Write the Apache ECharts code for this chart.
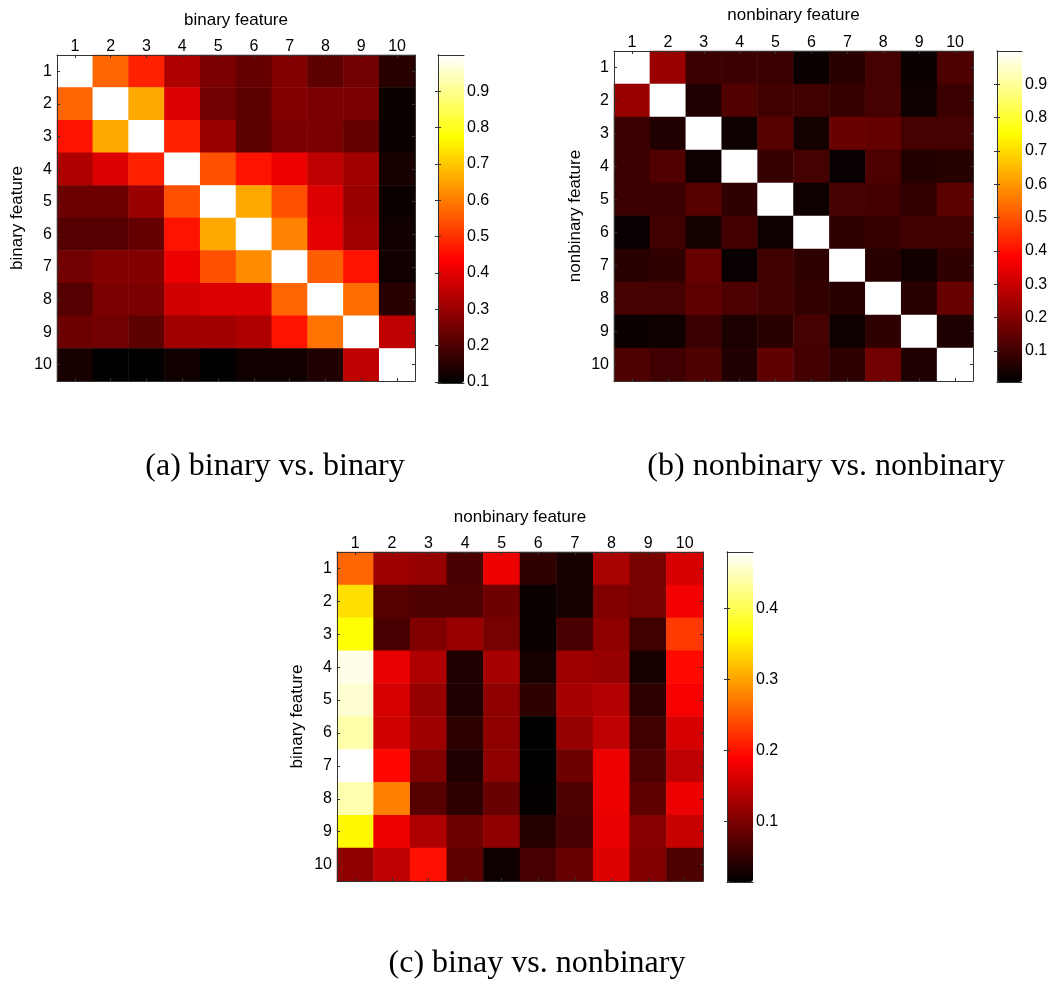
<!DOCTYPE html>
<html>
<head>
<meta charset="utf-8">
<script src="https://cdn.jsdelivr.net/npm/echarts@6/dist/echarts.min.js"></script>
<style>html,body{margin:0;padding:0;background:#fff}#c{width:1064px;height:985px}</style>
</head>
<body>
<div id="c"></div>
<script>
// ---- data ----
const features = ['1','2','3','4','5','6','7','8','9','10'];

// (a) binary vs. binary (rows/cols: binary feature 1..10)
const binBin = [
  [1.00, 0.57, 0.48, 0.33, 0.26, 0.23, 0.27, 0.22, 0.25, 0.15],
  [0.57, 1.00, 0.66, 0.39, 0.25, 0.22, 0.27, 0.26, 0.26, 0.11],
  [0.46, 0.66, 1.00, 0.48, 0.30, 0.22, 0.26, 0.26, 0.23, 0.11],
  [0.33, 0.39, 0.48, 1.00, 0.54, 0.46, 0.41, 0.35, 0.31, 0.13],
  [0.24, 0.24, 0.30, 0.54, 1.00, 0.66, 0.54, 0.39, 0.30, 0.11],
  [0.21, 0.21, 0.23, 0.46, 0.66, 1.00, 0.61, 0.40, 0.31, 0.12],
  [0.25, 0.27, 0.27, 0.41, 0.54, 0.62, 1.00, 0.56, 0.46, 0.12],
  [0.21, 0.26, 0.26, 0.37, 0.39, 0.39, 0.57, 1.00, 0.58, 0.15],
  [0.24, 0.25, 0.22, 0.31, 0.31, 0.33, 0.46, 0.59, 1.00, 0.35],
  [0.13, 0.10, 0.10, 0.12, 0.10, 0.12, 0.12, 0.14, 0.35, 1.00]
];

// (b) nonbinary vs. nonbinary
const nonNon = [
  [1.000, 0.230, 0.094, 0.094, 0.091, 0.021, 0.067, 0.108, 0.021, 0.120],
  [0.230, 1.000, 0.053, 0.126, 0.100, 0.100, 0.088, 0.108, 0.029, 0.091],
  [0.094, 0.053, 1.000, 0.029, 0.132, 0.038, 0.161, 0.152, 0.108, 0.108],
  [0.091, 0.126, 0.029, 1.000, 0.088, 0.108, 0.018, 0.120, 0.056, 0.064],
  [0.094, 0.094, 0.132, 0.076, 1.000, 0.029, 0.108, 0.105, 0.079, 0.143],
  [0.018, 0.100, 0.038, 0.105, 0.029, 1.000, 0.076, 0.088, 0.100, 0.100],
  [0.067, 0.076, 0.161, 0.018, 0.100, 0.076, 1.000, 0.067, 0.032, 0.076],
  [0.108, 0.108, 0.146, 0.120, 0.100, 0.082, 0.067, 1.000, 0.067, 0.158],
  [0.021, 0.029, 0.091, 0.047, 0.067, 0.108, 0.029, 0.076, 1.000, 0.050],
  [0.123, 0.097, 0.123, 0.053, 0.149, 0.105, 0.076, 0.173, 0.053, 1.000]
];

// (c) binary (rows) vs. nonbinary (cols)
const binNon = [
  [0.258, 0.123, 0.118, 0.065, 0.177, 0.047, 0.030, 0.130, 0.096, 0.162],
  [0.341, 0.074, 0.069, 0.069, 0.091, 0.022, 0.030, 0.102, 0.096, 0.181],
  [0.365, 0.065, 0.102, 0.119, 0.096, 0.022, 0.065, 0.112, 0.058, 0.228],
  [0.469, 0.173, 0.134, 0.036, 0.129, 0.030, 0.123, 0.118, 0.030, 0.195],
  [0.458, 0.162, 0.118, 0.036, 0.112, 0.047, 0.129, 0.137, 0.045, 0.184],
  [0.440, 0.156, 0.123, 0.047, 0.112, 0.015, 0.118, 0.145, 0.058, 0.162],
  [0.479, 0.193, 0.102, 0.036, 0.112, 0.015, 0.091, 0.177, 0.067, 0.145],
  [0.443, 0.276, 0.074, 0.047, 0.085, 0.018, 0.069, 0.177, 0.080, 0.177],
  [0.358, 0.177, 0.134, 0.091, 0.112, 0.041, 0.065, 0.173, 0.107, 0.151],
  [0.112, 0.145, 0.199, 0.080, 0.025, 0.063, 0.085, 0.167, 0.102, 0.069]
];

const rangeA = [0.097, 1.0];
const rangeB = [0.007, 1.0];
const rangeC = [0.015, 0.479];
const ticksA = [0.1, 0.2, 0.3, 0.4, 0.5, 0.6, 0.7, 0.8, 0.9];
const ticksB = [0.1, 0.2, 0.3, 0.4, 0.5, 0.6, 0.7, 0.8, 0.9];
const ticksC = [0.1, 0.2, 0.3, 0.4];

const captions = ['(a) binary vs. binary', '(b) nonbinary vs. nonbinary', '(c) binay vs. nonbinary'];

// ---- helpers ----
const hot = ['#000000','#550000','#aa0000','#ff0000','#ff5500','#ffaa00','#ffff00','#ffff80','#ffffff'];
const SANS = 'Liberation Sans, Arial, sans-serif';
const SERIF = '32px "Liberation Serif", "Times New Roman", serif';
const LINE = '#333333';

function toCells(m) {
  const out = [];
  m.forEach((row, r) => row.forEach((v, c) => out.push([c, r, v])));
  return out;
}

const layout = [
  { heat: {left: 57, top: 55, width: 358, height: 326}, bar: {left: 438, top: 55, width: 26, height: 328},
    xName: 'binary feature', yName: 'binary feature', xGap: 26, yGap: 31, data: binBin, range: rangeA, ticks: ticksA },
  { heat: {left: 614, top: 51, width: 359, height: 330}, bar: {left: 997, top: 51, width: 25, height: 331},
    xName: 'nonbinary feature', yName: 'nonbinary feature', xGap: 27, yGap: 30, data: nonNon, range: rangeB, ticks: ticksB },
  { heat: {left: 337, top: 552, width: 366, height: 329}, bar: {left: 727, top: 552, width: 26, height: 330},
    xName: 'nonbinary feature', yName: 'binary feature', xGap: 26, yGap: 31, data: binNon, range: rangeC, ticks: ticksC }
];

const grid = [], xAxis = [], yAxis = [], series = [], visualMap = [];
const lineStyle = {show: true, lineStyle: {color: LINE, width: 1}};
const tickIn = {show: true, inside: true, length: 3, alignWithLabel: true, lineStyle: {color: LINE}};

layout.forEach((L, i) => {
  const gh = grid.length;
  grid.push(Object.assign({containLabel: false}, L.heat));
  const gb = grid.length;
  grid.push(Object.assign({containLabel: false}, L.bar));

  // heatmap axes
  const xTop = xAxis.length;
  xAxis.push({type: 'category', gridIndex: gh, position: 'top', data: features, z: 10,
    axisLine: lineStyle, axisTick: tickIn, splitLine: {show: false},
    axisLabel: {color: '#000', fontSize: 16, fontFamily: SANS, margin: 0},
    name: L.xName, nameLocation: 'middle', nameGap: L.xGap,
    nameTextStyle: {color: '#000', fontSize: 17, fontFamily: SANS}});
  xAxis.push({type: 'category', gridIndex: gh, position: 'bottom', data: features, z: 10,
    axisLine: lineStyle, axisTick: tickIn, axisLabel: {show: false}, splitLine: {show: false}});
  const yLeft = yAxis.length;
  yAxis.push({type: 'category', gridIndex: gh, position: 'left', inverse: true, data: features, z: 10,
    axisLine: lineStyle, axisTick: tickIn, splitLine: {show: false},
    axisLabel: {color: '#000', fontSize: 16, fontFamily: SANS, margin: 5},
    name: L.yName, nameLocation: 'middle', nameGap: L.yGap, nameRotate: 90,
    nameTextStyle: {color: '#000', fontSize: 17, fontFamily: SANS}});
  yAxis.push({type: 'category', gridIndex: gh, position: 'right', inverse: true, data: features, z: 10,
    axisLine: lineStyle, axisTick: tickIn, axisLabel: {show: false}, splitLine: {show: false}});

  // colorbar axes
  xAxis.push({type: 'value', gridIndex: gb, position: 'bottom', min: 0, max: 1, z: 10,
    axisLine: lineStyle, axisTick: {show: false}, axisLabel: {show: false}, splitLine: {show: false}});
  xAxis.push({type: 'value', gridIndex: gb, position: 'top', min: 0, max: 1, z: 10,
    axisLine: lineStyle, axisTick: {show: false}, axisLabel: {show: false}, splitLine: {show: false}});
  yAxis.push({type: 'value', gridIndex: gb, position: 'left', min: L.range[0], max: L.range[1], z: 10,
    axisLine: lineStyle, splitLine: {show: false},
    axisTick: {show: true, inside: true, length: 3, lineStyle: {color: LINE}, customValues: L.ticks},
    axisLabel: {show: false}});
  yAxis.push({type: 'value', gridIndex: gb, position: 'right', min: L.range[0], max: L.range[1], z: 10,
    axisLine: lineStyle, splitLine: {show: false},
    axisTick: {show: true, inside: true, length: 3, lineStyle: {color: LINE}, customValues: L.ticks},
    axisLabel: {show: true, color: '#000', fontSize: 16, fontFamily: SANS, margin: 3, customValues: L.ticks}});

  const si = series.length;
  series.push({type: 'heatmap', xAxisIndex: xTop, yAxisIndex: yLeft, data: toCells(L.data),
    itemStyle: {borderWidth: 0}, emphasis: {disabled: true}, progressive: 0, animation: false});

  visualMap.push({type: 'continuous', seriesIndex: si, dimension: 2, min: L.range[0], max: L.range[1],
    calculable: false, orient: 'vertical', left: L.bar.left, top: L.bar.top,
    itemWidth: L.bar.width, itemHeight: L.bar.height, padding: 0, text: null, showLabel: false,
    inRange: {color: hot}, textStyle: {color: '#000'}});
});

const chart = echarts.init(document.getElementById('c'), null, {renderer: 'canvas'});
chart.setOption({
  backgroundColor: '#ffffff',
  animation: false,
  grid, xAxis, yAxis, series, visualMap,
  graphic: [
    {type: 'text', x: 275, y: 467, style: {text: captions[0], font: SERIF, fill: '#000', textAlign: 'center', textVerticalAlign: 'middle'}},
    {type: 'text', x: 826, y: 467, style: {text: captions[1], font: SERIF, fill: '#000', textAlign: 'center', textVerticalAlign: 'middle'}},
    {type: 'text', x: 537, y: 964, style: {text: captions[2], font: SERIF, fill: '#000', textAlign: 'center', textVerticalAlign: 'middle'}}
  ]
});
</script>
</body>
</html>
